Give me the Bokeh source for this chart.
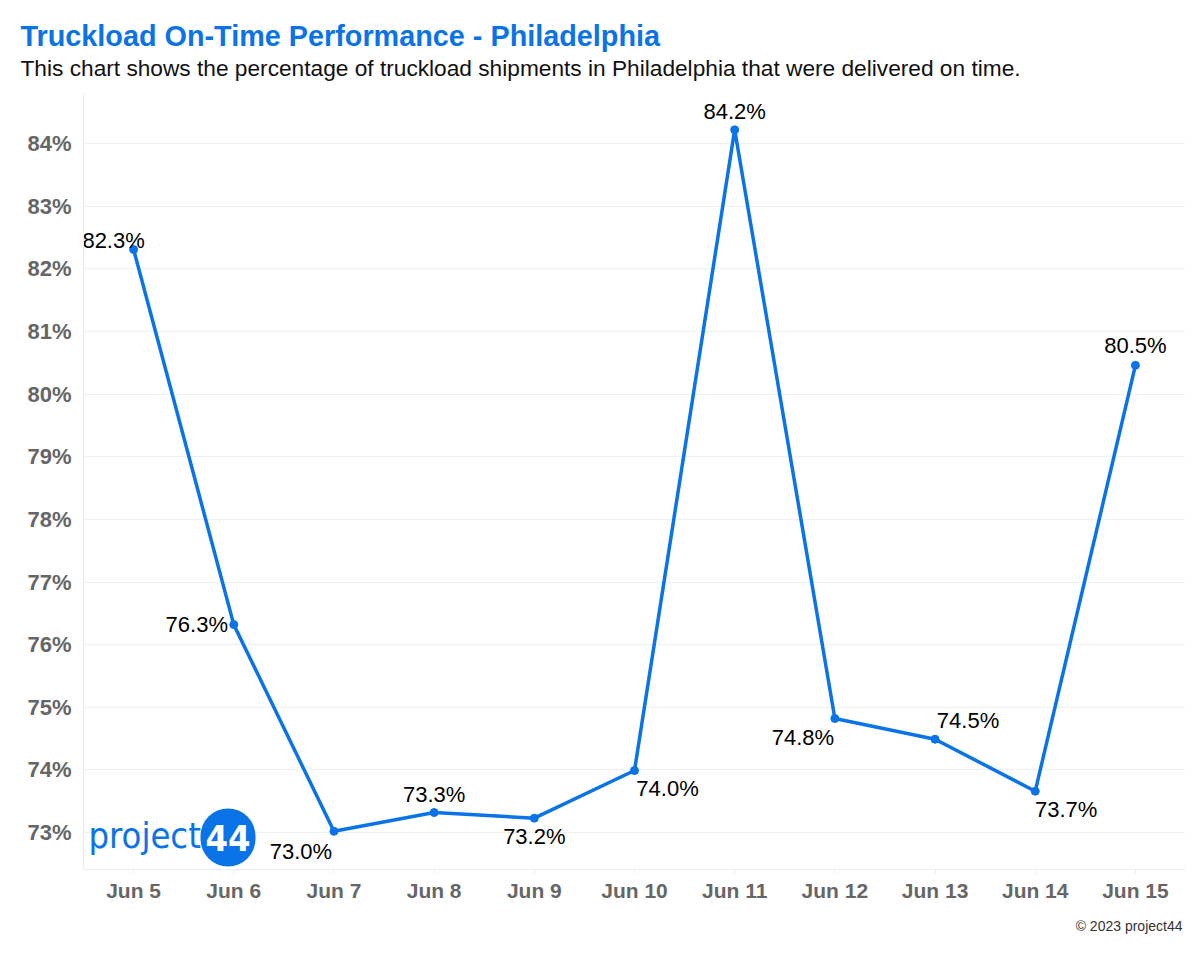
from bokeh.plotting import figure
from bokeh.models import (ColumnDataSource, Title, Label, BoxAnnotation,
                          NumeralTickFormatter, FixedTicker, Range1d, FactorRange)
from bokeh.core.properties import value
from bokeh.embed import file_html
from bokeh.resources import INLINE

# ---- data ----
dates = ["Jun 5", "Jun 6", "Jun 7", "Jun 8", "Jun 9", "Jun 10",
         "Jun 11", "Jun 12", "Jun 13", "Jun 14", "Jun 15"]
on_time_pct = [82.31, 76.32, 73.02, 73.32, 73.23, 73.99,
               84.22, 74.82, 74.49, 73.66, 80.46]
y_ticks = [73, 74, 75, 76, 77, 78, 79, 80, 81, 82, 83, 84]

title_text = "Truckload On-Time Performance - Philadelphia"
subtitle_text = ("This chart shows the percentage of truckload shipments in "
                 "Philadelphia that were delivered on time.")
caption_text = "\u00a9 2023 project44"

# label placement (style only, pixels)
label_dx = [-20, -37, -33, 0, 0, 33, 0, -32, 33, 31, 0]
label_dy = [-9, 0, 20, -18, 18, 18, -18, 19, -19, 18, -20]

BLUE = "#0a73e8"
GRAY_TXT = "#666666"
FONT = "Liberation Sans"
LOGO_FONT = "DejaVu Sans Condensed"

src = ColumnDataSource(dict(
    x=dates, y=on_time_pct,
    lbl=[f"{v:.1f}%" for v in on_time_pct],
    dx=label_dx, dy=label_dy,
))

p = figure(width=1192, height=952, x_range=FactorRange(*dates, range_padding=0),
           y_range=Range1d(72.41, 84.8), output_backend="svg",
           toolbar_location=None, min_border_left=83, min_border_right=7,
           min_border_top=93, min_border_bottom=83)
p.outline_line_color = None
p.background_fill_color = "white"

# titles
p.add_layout(Title(text=subtitle_text, text_font=FONT, text_font_size="22.7px",
                   text_font_style="normal", text_color="#111111",
                   align="left", offset=-63, standoff=26), "above")
p.add_layout(Title(text=title_text, text_font=FONT, text_font_size="28.8px",
                   text_font_style="bold", text_color=BLUE,
                   align="left", offset=-63, standoff=-25), "above")
p.add_layout(Title(text=caption_text, text_font=FONT, text_font_size="14px",
                   text_font_style="normal", text_color="#333333",
                   align="right", offset=3, standoff=22), "below")

# grid
p.xgrid.grid_line_color = None
p.ygrid.grid_line_color = "#f0f0f0"
p.ygrid.grid_line_width = 1

# axes
p.yaxis.ticker = FixedTicker(ticks=y_ticks)
p.yaxis.formatter = NumeralTickFormatter(format="0")
p.yaxis.major_label_overrides = {t: f"{t}%" for t in y_ticks}
for ax in (p.xaxis[0], p.yaxis[0]):
    ax.axis_line_color = "#ececec"
    ax.major_label_text_font = FONT
    ax.major_label_text_font_size = "21px"
    ax.major_label_text_font_style = "bold"
    ax.major_label_text_color = GRAY_TXT
    ax.minor_tick_line_color = None
p.yaxis.major_label_text_font_size = "22px"
p.yaxis.major_tick_line_color = None
p.yaxis.major_label_standoff = 6
p.xaxis.major_tick_line_color = "#ececec"
p.xaxis.major_tick_in = 0
p.xaxis.major_tick_out = 4
p.xaxis.major_label_standoff = 5

# logo (decoration)
p.add_layout(Label(x=5, y=14, x_units="screen", y_units="screen",
                   text="project", text_font=LOGO_FONT,
                   text_font_size="36px", text_color=BLUE))
p.add_layout(BoxAnnotation(left=117, right=172, bottom=3, top=61,
                           left_units="screen", right_units="screen",
                           top_units="screen", bottom_units="screen",
                           fill_color=BLUE, fill_alpha=1, line_color=None,
                           border_radius=28))
p.add_layout(Label(x=144.5, y=32, x_units="screen", y_units="screen",
                   text="44", text_font=LOGO_FONT,
                   text_font_size="36px", text_font_style="bold",
                   text_color="white", text_align="center",
                   text_baseline="middle"))

# line + points
p.line("x", "y", source=src, line_color=BLUE, line_width=3.5)
p.scatter("x", "y", source=src, size=8, fill_color=BLUE, line_color=BLUE)

# data labels
p.text("x", "y", text="lbl", source=src, x_offset="dx", y_offset="dy",
       text_font=value(FONT), text_font_size="22px", text_color="black",
       text_align="center", text_baseline="middle")

open("out.html", "w").write(file_html(p, INLINE))
